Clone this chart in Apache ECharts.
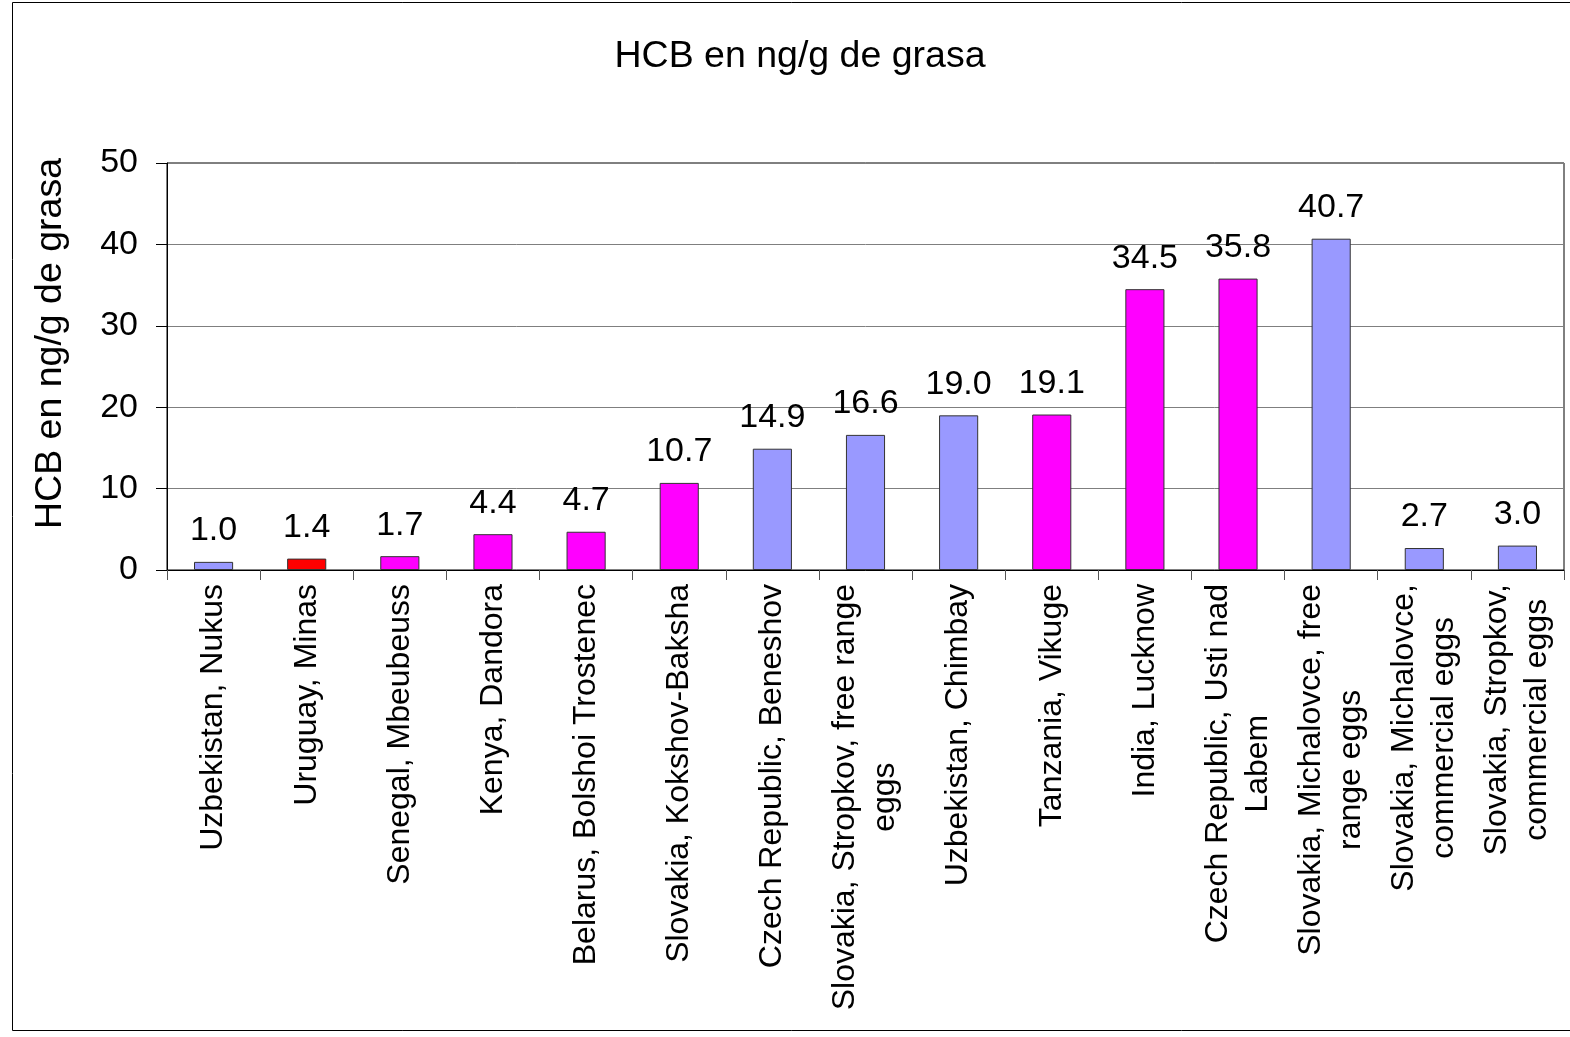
<!DOCTYPE html>
<html>
<head>
<meta charset="utf-8">
<script src="https://cdn.jsdelivr.net/npm/echarts@6/dist/echarts.min.js"></script>
<style>
html,body{margin:0;padding:0;background:#fff;}
#chart{width:1570px;height:1037px;}
</style>
</head>
<body>
<div id="chart"></div>
<script>
const chartTitle = 'HCB en ng/g de grasa';
const yAxisTitle = 'HCB en ng/g de grasa';
const categories = [
  'Uzbekistan, Nukus',
  'Uruguay, Minas',
  'Senegal, Mbeubeuss',
  'Kenya, Dandora',
  'Belarus, Bolshoi Trostenec',
  'Slovakia, Kokshov-Baksha',
  'Czech Republic, Beneshov',
  'Slovakia, Stropkov, free range\neggs',
  'Uzbekistan, Chimbay',
  'Tanzania, Vikuge',
  'India, Lucknow',
  'Czech Republic, Usti nad\nLabem',
  'Slovakia, Michalovce, free\nrange eggs',
  'Slovakia, Michalovce,\ncommercial eggs',
  'Slovakia, Stropkov,\ncommercial eggs'
];
const values = [1.0, 1.4, 1.7, 4.4, 4.7, 10.7, 14.9, 16.6, 19.0, 19.1, 34.5, 35.8, 40.7, 2.7, 3.0];
const barGroup = ['b','r','m','m','m','m','b','b','b','m','m','m','b','b','b'];
const yTicks = [0, 10, 20, 30, 40, 50];

const palette = { b: '#9999FF', r: '#FF0000', m: '#FF00FF' };
const FONT = "'Liberation Sans', Arial, sans-serif";

const chart = echarts.init(document.getElementById('chart'), null, { renderer: 'canvas' });
chart.setOption({
  backgroundColor: '#fff',
  animation: false,
  graphic: [{
    type: 'rect',
    shape: { x: 12.5, y: 2.5, width: 1600, height: 1028 },
    style: { fill: 'none', stroke: '#000', lineWidth: 1 },
    silent: true, z: -10
  }],
  title: {
    text: chartTitle,
    left: 795,
    top: 33,
    textAlign: 'center',
    textStyle: { fontFamily: FONT, fontSize: 37.5, fontWeight: 'normal', color: '#000' }
  },
  grid: {
    left: 167, right: 6, top: 163, bottom: 467,
    show: true, borderColor: '#000', borderWidth: 1, backgroundColor: 'transparent'
  },
  xAxis: {
    type: 'category',
    data: categories,
    axisLine: { lineStyle: { color: '#000', width: 1 } },
    axisTick: { show: true, length: 10, lineStyle: { color: '#555' } },
    axisLabel: {
      interval: 0,
      rotate: 90,
      margin: 14,
      fontFamily: FONT,
      fontSize: 32,
      color: '#000',
      formatter: v => v.split('\n').map(s => '{c|' + s + '}').join('\n'),
      rich: { c: { align: 'center', fontFamily: FONT, fontSize: 32, lineHeight: 40, color: '#000' } }
    }
  },
  yAxis: {
    type: 'value',
    min: yTicks[0], max: yTicks[yTicks.length - 1], interval: 10,
    name: yAxisTitle,
    nameLocation: 'middle',
    nameGap: 97,
    nameTextStyle: { fontFamily: FONT, fontSize: 37.5, color: '#000', padding: [0, 0, 0, 46] },
    axisLine: { show: true, lineStyle: { color: '#000', width: 1 } },
    axisTick: { show: true, inside: false, length: 11, lineStyle: { color: '#000' } },
    axisLabel: { fontFamily: FONT, fontSize: 34, color: '#000', margin: 29 },
    splitLine: { show: true, lineStyle: { color: '#7f7f7f', width: 1 } }
  },
  series: [{
    type: 'bar',
    data: values,
    barWidth: '42%',
    itemStyle: {
      color: p => palette[barGroup[p.dataIndex]],
      borderColor: '#333',
      borderWidth: 1
    },
    label: {
      show: true,
      position: 'top',
      distance: 14,
      fontFamily: FONT,
      fontSize: 34,
      color: '#000',
      formatter: p => p.value.toFixed(1)
    }
  }]
});
</script>
</body>
</html>
